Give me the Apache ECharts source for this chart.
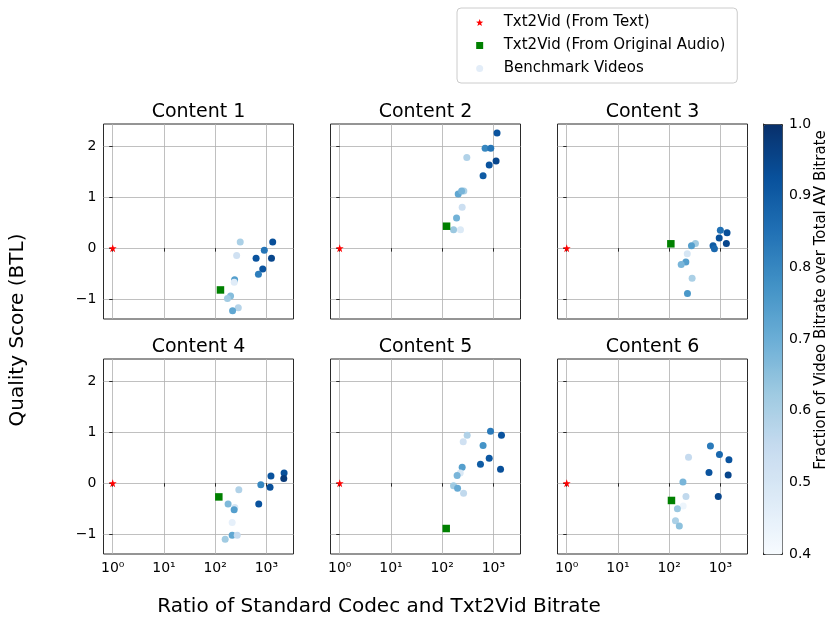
<!DOCTYPE html>
<html>
<head>
<meta charset="utf-8">
<script src="https://cdn.jsdelivr.net/npm/echarts@6/dist/echarts.min.js"></script>
<style>html,body{margin:0;padding:0;background:#fff;}#chart{width:830px;height:623px;}</style>
</head>
<body>
<div id="chart"></div>
<script>
// ---- Data (ratio = standard codec bitrate / Txt2Vid bitrate, score = BTL quality, frac = video/total AV bitrate)
const contentTitles = ['Content 1', 'Content 2', 'Content 3', 'Content 4', 'Content 5', 'Content 6'];

const c1Ratio = [309, 263, 1330, 912, 630, 1260, 850, 700, 240, 236, 200, 174, 283, 219];
const c1Score = [0.12, -0.145, 0.12, -0.04, -0.2, -0.2, -0.41, -0.51, -0.62, -0.67, -0.94, -0.99, -1.17, -1.23];
const c1Frac  = [0.60, 0.52, 0.93, 0.84, 0.92, 0.95, 0.92, 0.82, 0.74, 0.47, 0.66, 0.62, 0.58, 0.72];

const c2Ratio = [1180, 690, 890, 303, 1130, 830, 630, 265, 206, 240, 246, 191, 167, 228];
const c2Score = [2.26, 1.96, 1.96, 1.78, 1.71, 1.63, 1.42, 1.12, 1.06, 1.12, 0.80, 0.59, 0.36, 0.36];
const c2Frac  = [0.92, 0.80, 0.84, 0.59, 0.95, 0.92, 0.90, 0.60, 0.72, 0.68, 0.53, 0.69, 0.63, 0.48];

const c3Ratio = [1000, 1350, 950, 1310, 720, 765, 326, 273, 226, 212, 172, 281, 228];
const c3Score = [0.35, 0.30, 0.20, 0.09, 0.045, -0.01, 0.09, 0.045, -0.11, -0.27, -0.32, -0.59, -0.89];
const c3Frac  = [0.85, 0.93, 0.93, 0.95, 0.90, 0.87, 0.62, 0.74, 0.50, 0.74, 0.68, 0.60, 0.76];

const c4Ratio = [2220, 2190, 1230, 1180, 780, 710, 290, 179, 242, 235, 215, 215, 270, 157];
const c4Score = [0.20, 0.09, 0.14, -0.08, -0.03, -0.41, -0.13, -0.41, -0.48, -0.52, -0.77, -1.02, -1.02, -1.10];
const c4Frac  = [0.93, 0.98, 0.92, 0.93, 0.80, 0.92, 0.59, 0.67, 0.50, 0.74, 0.45, 0.72, 0.55, 0.62];

const c5Ratio = [880, 1440, 308, 258, 630, 830, 560, 1380, 246, 225, 196, 167, 200, 262];
const c5Score = [1.02, 0.94, 0.94, 0.81, 0.74, 0.49, 0.37, 0.27, 0.31, 0.20, 0.15, -0.05, -0.10, -0.20];
const c5Frac  = [0.83, 0.92, 0.59, 0.52, 0.77, 0.91, 0.90, 0.93, 0.74, 0.49, 0.68, 0.62, 0.71, 0.56];

const c6Ratio = [640, 960, 1470, 239, 600, 1420, 186, 213, 910, 188, 145, 133, 158];
const c6Score = [0.73, 0.56, 0.46, 0.51, 0.21, 0.16, 0.02, -0.26, -0.26, -0.45, -0.50, -0.74, -0.84];
const c6Frac  = [0.83, 0.87, 0.92, 0.55, 0.92, 0.95, 0.68, 0.56, 0.95, 0.43, 0.63, 0.60, 0.65];

const fromTextRatio  = [1, 1, 1, 1, 1, 1];
const fromTextScore  = [0, 0, 0, 0, 0, 0];
const fromAudioRatio = [127, 122, 108, 118, 120, 111];
const fromAudioScore = [-0.82, 0.43, 0.085, -0.27, -0.89, -0.34];

const xTickExponents = [0, 1, 2, 3];
const xTickLabels = ['10\u2070', '10\u00B9', '10\u00B2', '10\u00B3'];
const yTickValues = [-1, 0, 1, 2];
const cbarTickValues = [0.4, 0.5, 0.6, 0.7, 0.8, 0.9, 1.0];

// ---- Build
const benchRatio = [c1Ratio, c2Ratio, c3Ratio, c4Ratio, c5Ratio, c6Ratio];
const benchScore = [c1Score, c2Score, c3Score, c4Score, c5Score, c6Score];
const benchFrac  = [c1Frac, c2Frac, c3Frac, c4Frac, c5Frac, c6Frac];

const FONT = 'DejaVu Sans';
const colLeft = [103.5, 330.5, 557.5];
const rowTop = [124, 359];
const GW = 190, GH = 195;
const STAR = 'path://M0,-10 L2.35,-3.24 L9.51,-3.09 L3.8,1.24 L5.88,8.09 L0,4 L-5.88,8.09 L-3.8,1.24 L-9.51,-3.09 L-2.35,-3.24 Z';
const SQUARE = 'path://M0,0 L10,0 L10,10 L0,10 Z';

const grids = [], xAxes = [], yAxes = [], series = [], graphics = [];
const benchSeriesIdx = [];

for (let i = 0; i < 6; i++) {
  const r = Math.floor(i / 3), c = i % 3;
  grids.push({left: colLeft[c], top: rowTop[r], width: GW, height: GH, show: true,
    borderColor: '#2b2b2b', borderWidth: 1, backgroundColor: 'transparent', outerBoundsMode: 'none', containLabel: false});
  xAxes.push({gridIndex: i, type: 'value', min: -0.18, max: 3.53,
    axisLine: {show: false},
    axisTick: {show: true, length: 3.5, customValues: xTickExponents, lineStyle: {color: '#2b2b2b', width: 1}},
    axisLabel: {show: r === 1, customValues: xTickExponents, margin: 7, fontSize: 14, fontFamily: FONT, color: '#000',
      formatter: v => xTickLabels[xTickExponents.indexOf(Math.round(v))] || ''},
    splitLine: {show: true, lineStyle: {color: '#b0b0b0', width: 0.8}}
  });
  yAxes.push({gridIndex: i, type: 'value', min: -1.39, max: 2.435,
    axisLine: {show: false},
    axisTick: {show: true, length: 3.5, customValues: yTickValues, lineStyle: {color: '#2b2b2b', width: 1}},
    axisLabel: {show: c === 0, customValues: yTickValues, margin: 7, fontSize: 14, fontFamily: FONT, color: '#000',
      formatter: v => (v < 0 ? '\u2212' + Math.abs(v) : String(v))},
    splitLine: {show: true, lineStyle: {color: '#b0b0b0', width: 0.8}}
  });

  benchSeriesIdx.push(series.length);
  series.push({name: 'Benchmark Videos', type: 'scatter', xAxisIndex: i, yAxisIndex: i,
    symbol: 'circle', symbolSize: 7, z: 3, itemStyle: {opacity: 1},
    data: benchRatio[i].map((x, k) => [Math.log10(x), benchScore[i][k], benchFrac[i][k]])});
  series.push({name: 'Txt2Vid (From Original Audio)', type: 'scatter', xAxisIndex: i, yAxisIndex: i,
    symbol: 'rect', symbolSize: 7.5, itemStyle: {color: '#008000', opacity: 1}, z: 4,
    data: [[Math.log10(fromAudioRatio[i]), fromAudioScore[i]]]});
  series.push({name: 'Txt2Vid (From Text)', type: 'scatter', xAxisIndex: i, yAxisIndex: i,
    symbol: STAR, symbolSize: 8, itemStyle: {color: '#ff0000', opacity: 1}, z: 4,
    data: [[Math.log10(fromTextRatio[i]), fromTextScore[i]]]});

  graphics.push({type: 'text', x: colLeft[c] + GW / 2, y: rowTop[r] - 12,
    style: {text: contentTitles[i], fontSize: 19, fontFamily: FONT, fill: '#000', align: 'center', verticalAlign: 'middle'}});
}

// colorbar tick axis
grids.push({left: 763, top: 124, width: 19, height: 430, show: false, outerBoundsMode: 'none', containLabel: false});
xAxes.push({gridIndex: 6, type: 'value', show: false, min: 0, max: 1});
yAxes.push({gridIndex: 6, type: 'value', position: 'right', min: 0.4, max: 1.0,
  axisLine: {show: true, lineStyle: {color: '#2b2b2b', width: 1}},
  axisTick: {show: true, length: 3.5, customValues: cbarTickValues, lineStyle: {color: '#2b2b2b'}},
  axisLabel: {show: true, customValues: cbarTickValues, margin: 7, fontSize: 14, fontFamily: FONT, color: '#000',
    formatter: v => v.toFixed(1)},
  splitLine: {show: false}
});

graphics.push({type: 'text', x: 379, y: 607,
  style: {text: 'Ratio of Standard Codec and Txt2Vid Bitrate', fontSize: 20, fontFamily: FONT, fill: '#000', align: 'center', verticalAlign: 'middle'}});
graphics.push({type: 'text', x: 18, y: 330, rotation: Math.PI / 2,
  style: {text: 'Quality Score (BTL)', fontSize: 20, fontFamily: FONT, fill: '#000', align: 'center', verticalAlign: 'middle'}});
graphics.push({type: 'text', x: 821, y: 300, rotation: Math.PI / 2,
  style: {text: 'Fraction of Video Bitrate over Total AV Bitrate', fontSize: 15, fontFamily: FONT, fill: '#000', align: 'center', verticalAlign: 'middle'}});

const option = {
  animation: false,
  backgroundColor: '#fff',
  grid: grids,
  xAxis: xAxes,
  yAxis: yAxes,
  series: series,
  graphic: graphics,
  visualMap: {
    type: 'continuous', seriesIndex: benchSeriesIdx, dimension: 2,
    min: 0.4, max: 1.0, calculable: false, hoverLink: false,
    left: 763, top: 124, itemWidth: 19, itemHeight: 430, padding: 0,
    borderColor: '#2b2b2b', borderWidth: 1,
    inRange: {color: ['#f7fbff', '#deebf7', '#c6dbef', '#9ecae1', '#6baed6', '#4292c6', '#2171b5', '#08519c', '#08306b']},
    textStyle: {color: 'transparent'}
  },
  legend: {
    orient: 'vertical', left: 457, top: 8,
    padding: [7, 12, 7, 19], itemWidth: 38, itemHeight: 7, itemGap: 8,
    borderColor: '#cccccc', borderWidth: 1, borderRadius: 4, backgroundColor: '#fff',
    textStyle: {fontSize: 15, fontFamily: FONT, color: '#000'},
    data: [
      {name: 'Txt2Vid (From Text)', icon: STAR, itemStyle: {color: '#ff0000', opacity: 1}},
      {name: 'Txt2Vid (From Original Audio)', icon: SQUARE, itemStyle: {color: '#008000', opacity: 1}},
      {name: 'Benchmark Videos', icon: 'circle', itemStyle: {color: '#e3edf8', opacity: 1}}
    ]
  }
};

const chart = echarts.init(document.getElementById('chart'), null, {renderer: 'canvas'});
chart.setOption(option);
</script>
</body>
</html>
